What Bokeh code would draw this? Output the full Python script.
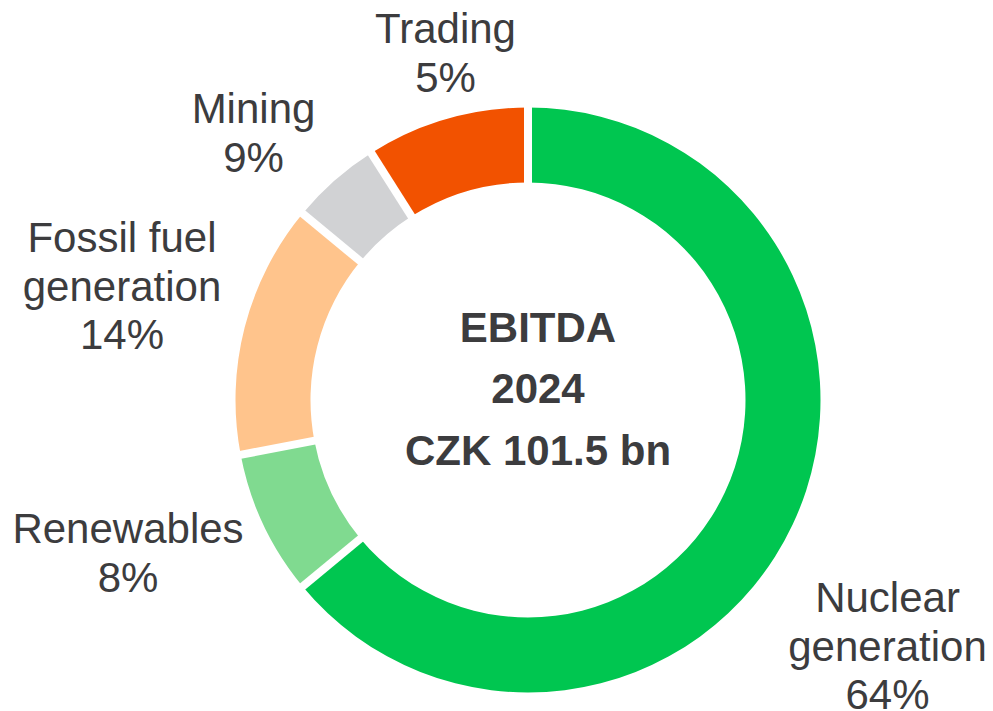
import math
from bokeh.plotting import figure
from bokeh.models import Range1d, ColumnDataSource
from bokeh.core.properties import value
from bokeh.embed import file_html
from bokeh.resources import INLINE

# ---- data ----
segments = ["Nuclear generation", "Renewables", "Fossil fuel generation", "Mining", "Trading"]
shares = [64, 8, 14, 5, 9]                 # slice sizes as drawn (clockwise from 12 o'clock)
pct_labels = ["64%", "8%", "14%", "9%", "5%"]
name_lines = [["Nuclear", "generation"], ["Renewables"], ["Fossil fuel", "generation"], ["Mining"], ["Trading"]]
colors = ["#00C650", "#80DA90", "#FFC48C", "#D1D2D4", "#F25200"]
center_lines = ["EBITDA", "2024", "CZK 101.5 bn"]

# ---- layout (screen px) ----
W, H = 993, 711
def sx(x):
    return x
def sy(y):
    return H - y

cx, cy = sx(527.5), sy(399.5)
R_OUT, R_IN = 292.5, 217.5
BASE_FIX = -15
label_anchor = [(887, 612), (127.5, 543), (121.5, 252), (253, 123), (445, 43)]
LINE = 48.5
TXT = "#3C3C3E"
FONT = "Liberation Sans"

p = figure(width=W, height=H, output_backend="svg", toolbar_location=None,
           x_range=Range1d(0, W), y_range=Range1d(0, H), min_border=0)
p.axis.visible = False
p.grid.visible = False
p.outline_line_color = None
p.background_fill_color = "white"
p.border_fill_color = "white"

total = float(sum(shares))
starts, ends = [], []
cum = 0.0
for s in shares:
    a_end = math.pi / 2 - 2 * math.pi * cum / total
    cum += s
    a_start = math.pi / 2 - 2 * math.pi * cum / total
    starts.append(a_start)
    ends.append(a_end)

src = ColumnDataSource(dict(seg=segments, start=starts, end=ends, color=colors))
p.annular_wedge(x=cx, y=cy, inner_radius=R_IN, outer_radius=R_OUT,
                start_angle="start", end_angle="end", direction="anticlock",
                fill_color="color", line_color=None, source=src)

# white separators at slice boundaries
x0s, y0s, x1s, y1s = [], [], [], []
for a in ends:
    x0s.append(cx + (R_IN - 3) * math.cos(a))
    y0s.append(cy + (R_IN - 3) * math.sin(a))
    x1s.append(cx + (R_OUT + 3) * math.cos(a))
    y1s.append(cy + (R_OUT + 3) * math.sin(a))
p.segment(x0=x0s, y0=y0s, x1=x1s, y1=y1s, line_color="white", line_width=8)

# labels
tx, ty, tt = [], [], []
for (ax, ay), names, pct in zip(label_anchor, name_lines, pct_labels):
    lines = names + [pct]
    for k, ln in enumerate(lines):
        tx.append(sx(ax))
        ty.append(sy(ay + k * LINE + BASE_FIX))
        tt.append(ln)
p.text(x=tx, y=ty, text=tt, text_font=value(FONT), text_font_size="42px",
       text_color=TXT, text_align="center", text_baseline="alphabetic")

# center text
cb = [342, 403, 465]
p.text(x=[sx(537.5)] * 3, y=[sy(b + BASE_FIX) for b in cb], text=center_lines,
       text_font=value(FONT), text_font_size="42px", text_font_style="bold",
       text_color=TXT, text_align="center", text_baseline="alphabetic")

open("out.html", "w").write(file_html(p, INLINE))
